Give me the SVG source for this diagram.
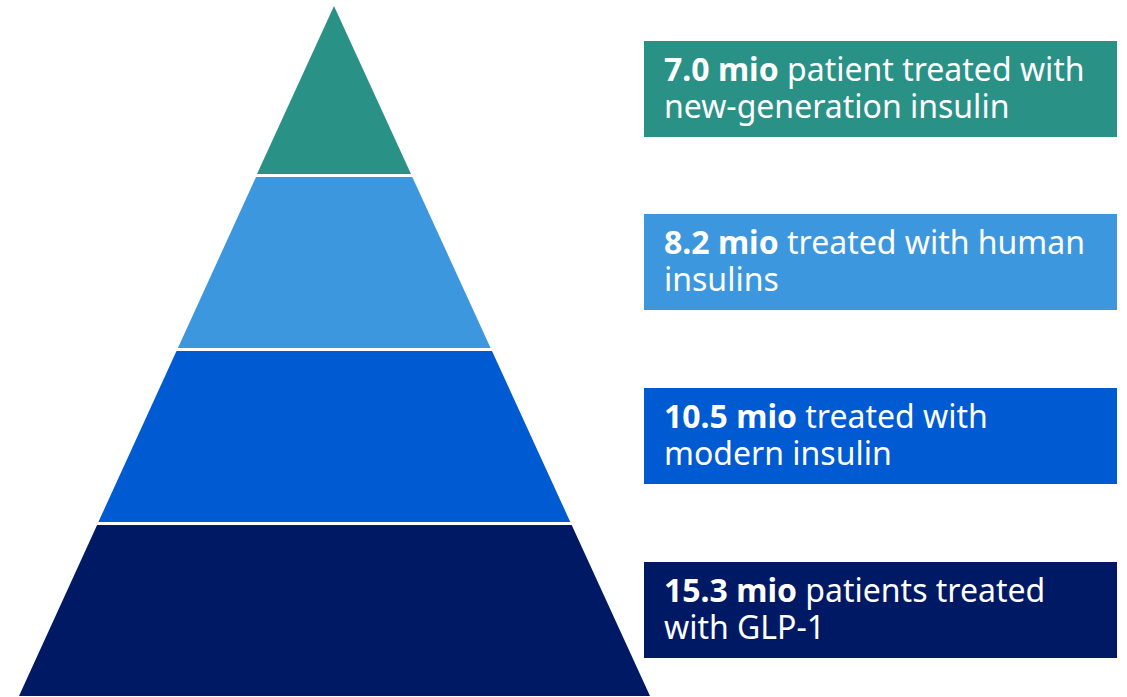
<svg xmlns="http://www.w3.org/2000/svg" width="1127" height="697" viewBox="0 0 1127 697">
<style>
.t{font-family:"Noto Sans","Open Sans","Liberation Sans",sans-serif;font-size:32px;fill:#ffffff}
.b{font-weight:bold}
</style>
<rect width="1127" height="697" fill="#ffffff"/>
<g id="layer1">
<polygon points="334,6 411,174 257,174" fill="#2A9187"/>
<rect x="644" y="41" width="473" height="96" fill="#2A9187"/>
<text class="t" x="664" y="81"><tspan class="b">7.0 mio</tspan> patient treated with</text>
<text class="t" x="664" y="118">new-generation insulin</text>
</g>
<g id="layer2">
<polygon points="256,177 412.3,177 490.6,348 177.9,348" fill="#3C97DF"/>
<rect x="644" y="214" width="473" height="96" fill="#3C97DF"/>
<text class="t" x="664" y="254"><tspan class="b">8.2 mio</tspan> treated with human</text>
<text class="t" x="664" y="291">insulins</text>
</g>
<g id="layer3">
<polygon points="176.5,351 492,351 570.3,522 98.4,522" fill="#005AD2"/>
<rect x="644" y="388" width="473" height="96" fill="#005AD2"/>
<text class="t" x="664" y="428"><tspan class="b">10.5 mio</tspan> treated with</text>
<text class="t" x="664" y="465">modern insulin</text>
</g>
<g id="layer4">
<polygon points="97.1,525 571.7,525 650,696 19,696" fill="#001965"/>
<rect x="644" y="562" width="473" height="96" fill="#001965"/>
<text class="t" x="664" y="602"><tspan class="b">15.3 mio</tspan> patients treated</text>
<text class="t" x="664" y="639">with GLP-1</text>
</g>
<g id="connectors"/>
</svg>
